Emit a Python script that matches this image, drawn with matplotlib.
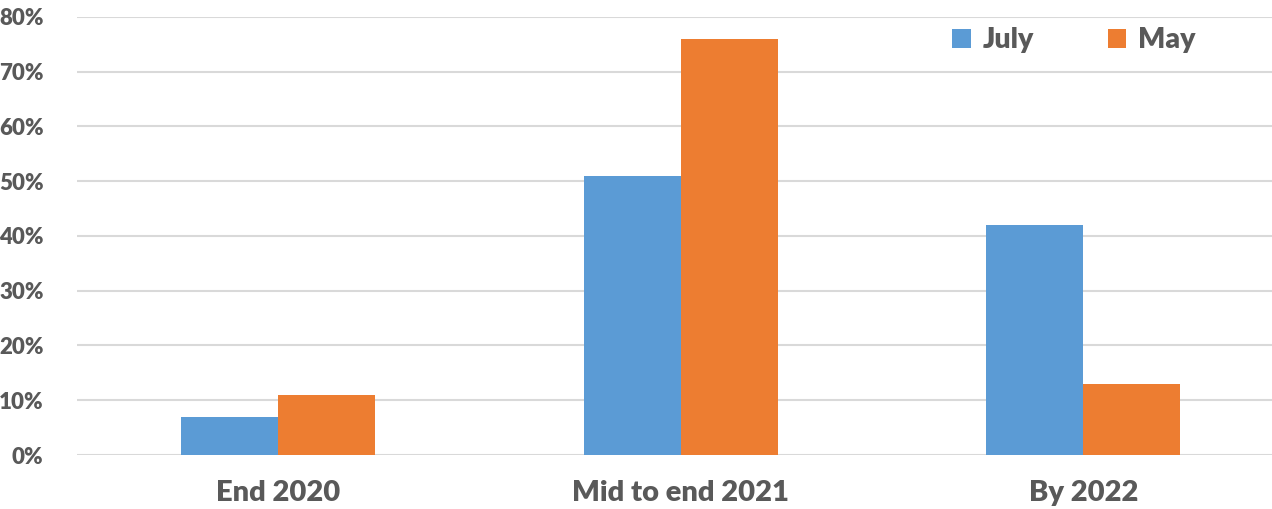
import numpy as np
import matplotlib
matplotlib.use("Agg")
from matplotlib import pyplot as plt
from matplotlib.ticker import FuncFormatter

# Chart data
categories = ["End 2020", "Mid to end 2021", "By 2022"]
july = [7, 51, 42]
may = [11, 76, 13]
yticks = [0, 10, 20, 30, 40, 50, 60, 70, 80]

plt.rcParams['font.family'] = ['Lato', 'DejaVu Sans']
text_color = '#595959'
weight = 'heavy'

fig = plt.figure(figsize=(12.72, 5.09), dpi=100)
ax = fig.add_axes([0.0605, 0.106, 0.9495, 0.861])

x = np.arange(len(categories))
w = 0.241
ax.bar(x - w / 2, july, width=w, color='#5B9BD5', label='July', zorder=3)
ax.bar(x + w / 2, may, width=w, color='#ED7D31', label='May', zorder=3)

ax.set_xlim(-0.5, len(categories) - 0.5)
ax.set_ylim(0, 80)
ax.set_yticks(yticks)
ax.yaxis.set_major_formatter(FuncFormatter(lambda v, p: f"{int(v)}%"))
ax.set_xticks(x)
ax.set_xticklabels(categories)

# Gridlines and spines
ax.grid(axis='y', color='#D9D9D9', linewidth=1.5, zorder=0)
for s in ax.spines.values():
    s.set_visible(False)
ax.tick_params(axis='both', length=0)
ax.tick_params(axis='y', labelsize=16, labelcolor=text_color, pad=24)
ax.tick_params(axis='x', labelsize=21, labelcolor=text_color, pad=18)
for lab in ax.get_xticklabels() + ax.get_yticklabels():
    lab.set_fontweight(weight)

leg = ax.legend(loc='upper right', bbox_to_anchor=(0.947, 1.035), ncol=2,
                frameon=False, handlelength=0.65, handleheight=0.65,
                handletextpad=0.4, columnspacing=2.6,
                prop={'size': 20.5, 'weight': weight})
for t in leg.get_texts():
    t.set_color(text_color)

fig.savefig("out.png", dpi=100)
